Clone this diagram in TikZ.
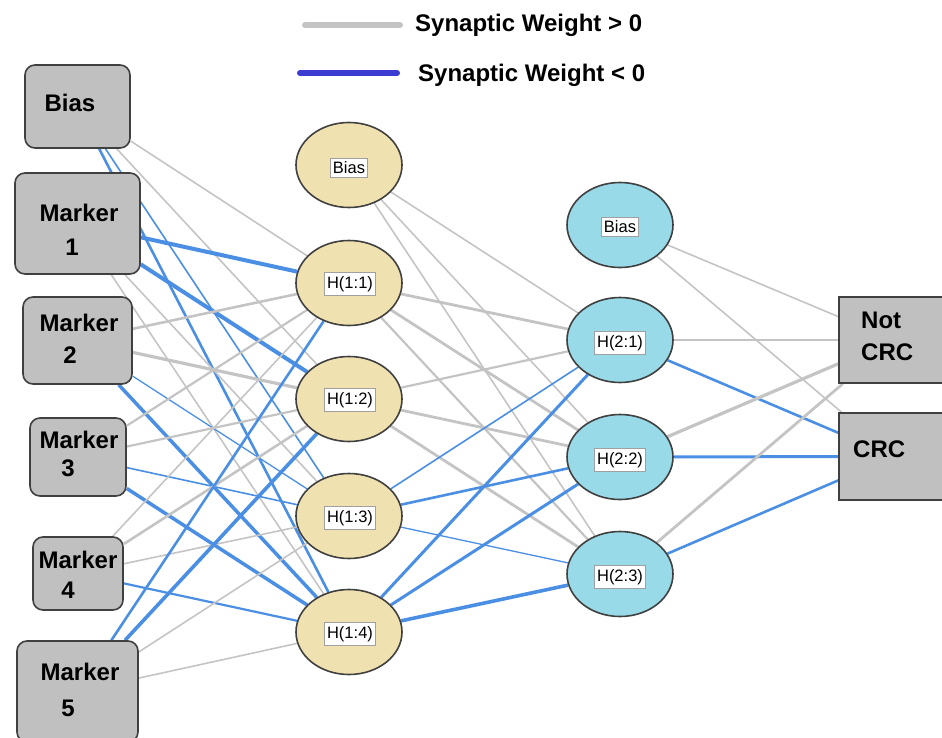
\documentclass[tikz,border=0pt]{standalone}
\usepackage{fontspec}
\setmainfont{Liberation Sans}
\usetikzlibrary{shapes.geometric}
\pgfdeclarelayer{bg}
\pgfsetlayers{bg,main}
\definecolor{boxfill}{HTML}{C0C0C0}
\definecolor{boxline}{HTML}{404040}
\definecolor{yel}{HTML}{F0E2B0}
\definecolor{cyn}{HTML}{98DAE8}
\definecolor{wgray}{HTML}{C4C4C4}
\definecolor{wblue}{HTML}{4A8FE3}
\definecolor{legblue}{HTML}{3C3CD2}
\definecolor{labgray}{HTML}{A0A0A0}
\tikzset{
  inbox/.style={draw=boxline, fill=boxfill, rounded corners=10pt, line width=1.6pt, inner sep=0pt},
  outbox/.style={draw=boxline, fill=boxfill, line width=1.6pt, inner sep=0pt},
  btxt/.style={font=\fontsize{24}{28}\selectfont\bfseries, inner sep=0pt, text=black},
  hyel/.style={ellipse, draw=boxline, fill=yel, line width=1.6pt, minimum width=106pt, minimum height=85pt, inner sep=0pt},
  hcyn/.style={ellipse, draw=boxline, fill=cyn, line width=1.6pt, minimum width=106pt, minimum height=85pt, inner sep=0pt},
  lab/.style={draw=labgray, fill=white, font=\fontsize{16.5}{19}\selectfont, inner xsep=2.5pt, inner ysep=3.5pt, line width=0.8pt},
  pw/.style={draw=wgray, line width=#1},
  nw/.style={draw=wblue, line width=#1},
  legline/.style={line width=6pt, line cap=round}
}
\begin{document}
\begin{tikzpicture}[x=1pt,y=-1pt]
\useasboundingbox (0,0) rectangle (942,738);
% legend
\coordinate (lg1) at (305,25); \coordinate (lg2) at (400,25);
\coordinate (lb1) at (300,73); \coordinate (lb2) at (397,73);
\draw[legline, draw=wgray] (lg1) -- (lg2);
\draw[legline, draw=legblue] (lb1) -- (lb2);
\node[btxt, anchor=west] (legp) at (415,25) {Synaptic Weight > 0};
\node[btxt, anchor=west] (legn) at (418,75) {Synaptic Weight < 0};
% input boxes
\node[inbox, minimum width=105pt, minimum height=83pt] (b0) at (77.5,106.5) {};
\node[inbox, minimum width=125pt, minimum height=101pt] (m1) at (77.5,223.5) {};
\node[inbox, minimum width=109pt, minimum height=87pt] (m2) at (77.5,340.5) {};
\node[inbox, minimum width=96pt, minimum height=78pt] (m3) at (78,457) {};
\node[inbox, minimum width=90pt, minimum height=73pt] (m4) at (78,573.5) {};
\node[inbox, minimum width=121pt, minimum height=101pt] (m5) at (77.5,691.5) {};
\node[btxt] (t0) at (70,103) {Bias};
\node[btxt] (t1a) at (79,213) {Marker}; \node[btxt] (t1b) at (72,247) {1};
\node[btxt] (t2a) at (79,323) {Marker}; \node[btxt] (t2b) at (70,355) {2};
\node[btxt] (t3a) at (79,440) {Marker}; \node[btxt] (t3b) at (68,468) {3};
\node[btxt] (t4a) at (78,560) {Marker}; \node[btxt] (t4b) at (68,590) {4};
\node[btxt] (t5a) at (80,672) {Marker}; \node[btxt] (t5b) at (68,708) {5};
% hidden layer 1
\node[hyel] (hb) at (349,165) {};
\node[hyel] (h1) at (349,283) {};
\node[hyel] (h2) at (349,399) {};
\node[hyel] (h3) at (349,516) {};
\node[hyel] (h4) at (349,632) {};
\node[lab] (hbl) at (349,168) {Bias};
\node[lab] (h1l) at (350,284) {H(1:1)};
\node[lab] (h2l) at (350,400) {H(1:2)};
\node[lab] (h3l) at (350,518) {H(1:3)};
\node[lab] (h4l) at (350,634) {H(1:4)};
% hidden layer 2
\node[hcyn] (kb) at (620,225) {};
\node[hcyn] (k1) at (620,340) {};
\node[hcyn] (k2) at (620,457) {};
\node[hcyn] (k3) at (620,574) {};
\node[lab] (kbl) at (620,227) {Bias};
\node[lab] (k1l) at (620,343) {H(2:1)};
\node[lab] (k2l) at (620,460) {H(2:2)};
\node[lab] (k3l) at (620,577) {H(2:3)};
% outputs
\node[outbox, minimum width=110pt, minimum height=86pt] (o1) at (894,340) {};
\node[outbox, minimum width=110pt, minimum height=87pt] (o2) at (894,456.5) {};
\node[btxt, anchor=west] (o1a) at (861,320) {Not};
\node[btxt, anchor=west] (o1b) at (861,352) {CRC};
\node[btxt, anchor=west] (o2a) at (853,449) {CRC};
% connectors
\begin{pgfonlayer}{bg}
\draw[pw=1.6] (b0) -- (h1);
\draw[pw=1.6] (b0) -- (h2);
\draw[nw=1.6] (b0) -- (h3);
\draw[nw=2.6] (b0) -- (h4);
\draw[nw=4] (m1) -- (h1);
\draw[nw=4] (m1) -- (h2);
\draw[pw=1.6] (m1) -- (h3);
\draw[pw=1.6] (m1) -- (h4);
\draw[pw=2.6] (m2) -- (h1);
\draw[pw=3.2] (m2) -- (h2);
\draw[nw=1.3] (m2) -- (h3);
\draw[nw=3.5] (m2) -- (h4);
\draw[pw=2.2] (m3) -- (h1);
\draw[pw=2.2] (m3) -- (h2);
\draw[nw=1.6] (m3) -- (h3);
\draw[nw=3.5] (m3) -- (h4);
\draw[pw=1.6] (m4) -- (h1);
\draw[pw=2.6] (m4) -- (h2);
\draw[pw=1.6] (m4) -- (h3);
\draw[nw=2.2] (m4) -- (h4);
\draw[nw=2.6] (m5) -- (h1);
\draw[nw=3.6] (m5) -- (h2);
\draw[pw=1.6] (m5) -- (h3);
\draw[pw=1.6] (m5) -- (h4);
\draw[pw=1.6] (hb) -- (k1);
\draw[pw=1.6] (hb) -- (k2);
\draw[pw=1.6] (hb) -- (k3);
\draw[pw=2.8] (h1) -- (k1);
\draw[pw=2.8] (h1) -- (k2);
\draw[pw=2.2] (h1) -- (k3);
\draw[pw=2.2] (h2) -- (k1);
\draw[pw=2.8] (h2) -- (k2);
\draw[pw=2.8] (h2) -- (k3);
\draw[nw=1.6] (h3) -- (k1);
\draw[nw=2.6] (h3) -- (k2);
\draw[nw=1.3] (h3) -- (k3);
\draw[nw=3] (h4) -- (k1);
\draw[nw=3] (h4) -- (k2);
\draw[nw=3.6] (h4) -- (k3);
\draw[pw=1.6] (kb) -- (o1);
\draw[pw=1.6] (kb) -- (o2);
\draw[pw=2.6] (k1) -- (o1);
\draw[nw=2.6] (k1) -- (o2);
\draw[pw=3.2] (k2) -- (o1);
\draw[nw=3] (k2) -- (o2);
\draw[pw=2.8] (k3) -- (o1);
\draw[nw=2.6] (k3) -- (o2);
\end{pgfonlayer}
\end{tikzpicture}
\end{document}
